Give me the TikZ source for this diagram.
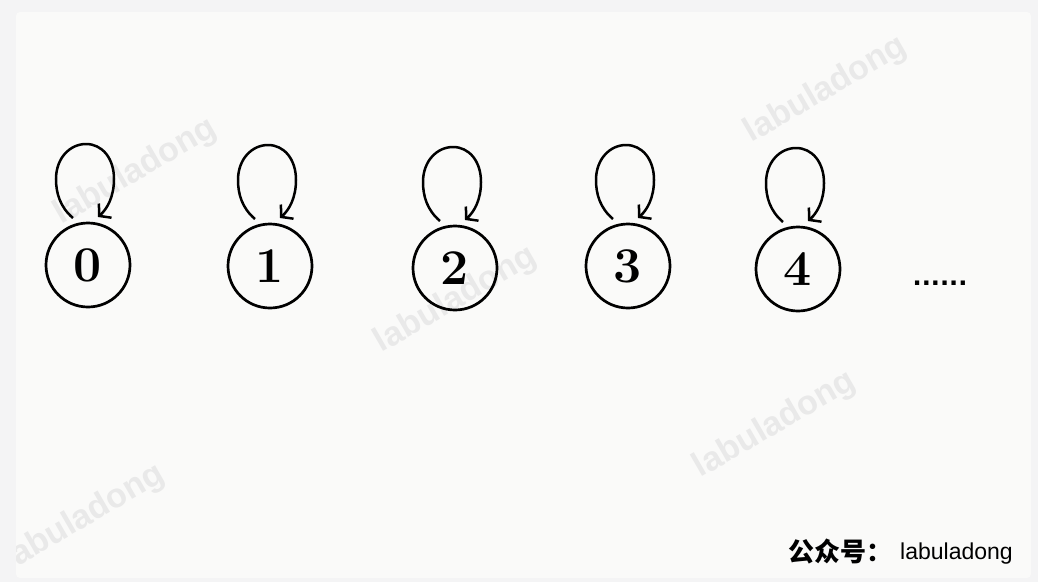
\documentclass[tikz,border=0pt]{standalone}
\usepackage{fontspec}
\newfontfamily\cjk{Noto Sans CJK SC}
\newfontfamily\wm{Liberation Sans}
\newfontfamily\djv{DejaVu Sans}
\usetikzlibrary{arrows.meta,calc}
\definecolor{bgout}{HTML}{F4F4F5}
\definecolor{bgin}{HTML}{FAFAF9}
\definecolor{wmcol}{HTML}{E9E9E9}
\newcommand\selfloopat[1]{%
  \draw[selfloop] ($(#1)+(-15,47)$) .. controls ($(#1)+(-28,58)$) and ($(#1)+(-32,72)$) .. ($(#1)+(-32,86)$)
    .. controls ($(#1)+(-32,107)$) and ($(#1)+(-18,121)$) .. ($(#1)+(-2,121)$)
    .. controls ($(#1)+(14,121)$) and ($(#1)+(26,107)$) .. ($(#1)+(26,86)$)
    .. controls ($(#1)+(26,68)$) and ($(#1)+(19,56)$) .. ($(#1)+(10,48)$);}
\begin{document}
\begin{tikzpicture}[x=1pt,y=1pt,
  state/.style={circle,draw,line width=2.7pt,minimum size=84pt,inner sep=0pt,font=\bfseries\fontsize{50}{50}\selectfont},
  selfloop/.style={line width=2.5pt,-{Straight Barb[length=8pt,width=19pt,line width=2.5pt]}},
  wmark/.style={rotate=30,text=wmcol,inner sep=0pt,font=\wm\bfseries\fontsize{34}{34}\selectfont}]
\fill[bgout] (0,0) rectangle (1038,-582);
\useasboundingbox (0,0) rectangle (1038,-582);
\fill[bgin,rounded corners=4pt] (16,-12) rectangle (1031,-578);
\begin{scope}
\clip (16,-12) rectangle (1031,-578);
\node[wmark] (w1) at (136,-172) {labuladong};
\node[wmark] (w2) at (826,-90) {labuladong};
\node[wmark] (w3) at (456,-300) {labuladong};
\node[wmark] (w4) at (775,-425) {labuladong};
\node[wmark] (w5) at (84,-518) {labuladong};
\end{scope}
\node[state] (n0) at (88,-265) {0};
\node[state] (n1) at (270,-266) {1};
\node[state] (n2) at (455,-268) {2};
\node[state] (n3) at (628,-266) {3};
\node[state] (n4) at (798,-269) {4};
\foreach \n in {n0,n1,n2,n3,n4} {\selfloopat{\n}}
\node[anchor=base,inner sep=0pt,font=\djv\bfseries\fontsize{24}{24}\selectfont] (dots) at (940,-285) {......};
\node[anchor=base west,inner sep=0pt,font=\cjk\bfseries\fontsize{26}{26}\selectfont] (gzh) at (788,-561) {公众号：};
\node[anchor=base west,inner sep=0pt,font=\wm\fontsize{23}{23}\selectfont] (lab) at (900,-559) {labuladong};
\end{tikzpicture}
\end{document}
